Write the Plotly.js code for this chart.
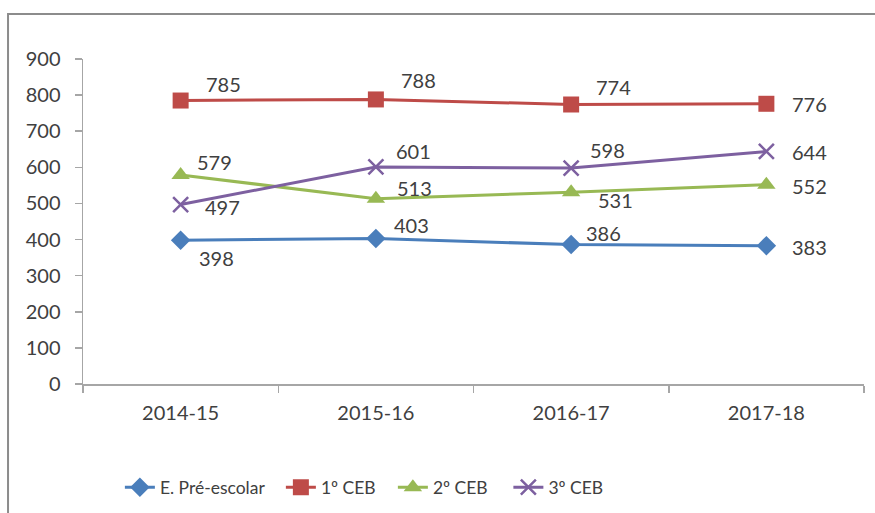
<!DOCTYPE html>
<html>
<head>
<meta charset="utf-8">
<script src="https://cdn.plot.ly/plotly-3.0.1.min.js"></script>
<style>
html,body{margin:0;padding:0;background:#fff;}
#chart{width:875px;height:513px;}
</style>
</head>
<body>
<div id="chart"></div>
<script>
// ---- data ----
const categories = ["2014-15", "2015-16", "2016-17", "2017-18"];
const seriesNames = ["E. Pré-escolar", "1º CEB", "2º CEB", "3º CEB"];
const preEscolar = [398, 403, 386, 383];
const ceb1 = [785, 788, 774, 776];
const ceb2 = [579, 513, 531, 552];
const ceb3 = [497, 601, 598, 644];
const yTicks = [0, 100, 200, 300, 400, 500, 600, 700, 800, 900];

// ---- styling ----
const FONT = "Lato, 'Open Sans', sans-serif";
const TXT = "#404040";
const styles = [
  {color: "#4A7EBB", symbol: "diamond", size: 15, mline: 0},
  {color: "#BE4B48", symbol: "square", size: 16, mline: 0},
  {color: "#98B954", symbol: "triangle-up", size: 16, mline: 0},
  {color: "#7D60A0", symbol: "x-thin-open", size: 15, mline: 2.5}
];
// label offsets (px) relative to each point: [xshift, yshift]
const labelOffsets = [
  [[16,-18],[16,13],[13,12],[24,-1]],
  [[23,17],[23,19],[23,18],[24,0]],
  [[14,13],[19,11],[25,-8],[24,-1]],
  [[22,-2],[18,16],[17,18],[24,-1]]
];
// legend entry positions (container fraction)
const legendX = [0.137, 0.321, 0.449, 0.581];
const legendIds = ["legend", "legend2", "legend3", "legend4"];

const allSeries = [preEscolar, ceb1, ceb2, ceb3];
const traces = allSeries.map((vals, i) => ({
  type: "scatter",
  mode: "lines+markers",
  name: seriesNames[i],
  legend: legendIds[i],
  x: categories,
  y: vals,
  line: {color: styles[i].color, width: 3},
  marker: {
    color: styles[i].color,
    symbol: styles[i].symbol,
    size: styles[i].size,
    line: {color: styles[i].color, width: styles[i].mline}
  },
  hoverinfo: "x+y"
}));

const annotations = [];
allSeries.forEach((vals, i) => {
  vals.forEach((v, j) => {
    annotations.push({
      x: categories[j], y: v, xref: "x", yref: "y",
      text: String(v), showarrow: false,
      xanchor: "left", yanchor: "middle",
      xshift: labelOffsets[i][j][0], yshift: labelOffsets[i][j][1],
      font: {family: FONT, size: 20, color: TXT}
    });
  });
});

const layout = {
  width: 875, height: 513,
  paper_bgcolor: "#ffffff", plot_bgcolor: "#ffffff",
  margin: {l: 83, r: 11, t: 59, b: 129, pad: 0},
  font: {family: FONT, size: 20, color: TXT},
  showlegend: true,
  xaxis: {
    type: "category",
    range: [-0.5, 3.5],
    showgrid: false, zeroline: false,
    showline: true, linecolor: "#A6A6A6", linewidth: 1.5,
    ticks: "outside", tickson: "boundaries", ticklen: 7, tickcolor: "#A6A6A6", tickwidth: 1.5,
    ticklabelstandoff: 10,
    tickfont: {family: FONT, size: 20, color: TXT},
    fixedrange: true
  },
  yaxis: {
    range: [0, 900],
    tickvals: yTicks,
    showgrid: false, zeroline: false,
    showline: true, linecolor: "#A6A6A6", linewidth: 1.5,
    ticks: "outside", ticklen: 7, tickcolor: "#A6A6A6", tickwidth: 1.5,
    ticklabelstandoff: 10,
    tickfont: {family: FONT, size: 20, color: TXT},
    fixedrange: true
  },
  annotations: annotations,
  shapes: [{
    type: "rect", xref: "paper", yref: "paper",
    x0: -0.096, x1: 1.2, y0: -0.6, y1: 1.1385,
    line: {color: "#8C8C8C", width: 2}, fillcolor: "rgba(0,0,0,0)", layer: "below"
  }]
};
legendIds.forEach((id, i) => {
  layout[id] = {
    orientation: "h",
    xref: "container", yref: "container",
    x: legendX[i], y: 0.05, xanchor: "left", yanchor: "middle",
    font: {family: FONT, size: 17.5, color: TXT},
    bgcolor: "rgba(0,0,0,0)",
    itemclick: false
  };
});

Plotly.newPlot("chart", traces, layout, {staticPlot: true, displayModeBar: false});
</script>
</body>
</html>
